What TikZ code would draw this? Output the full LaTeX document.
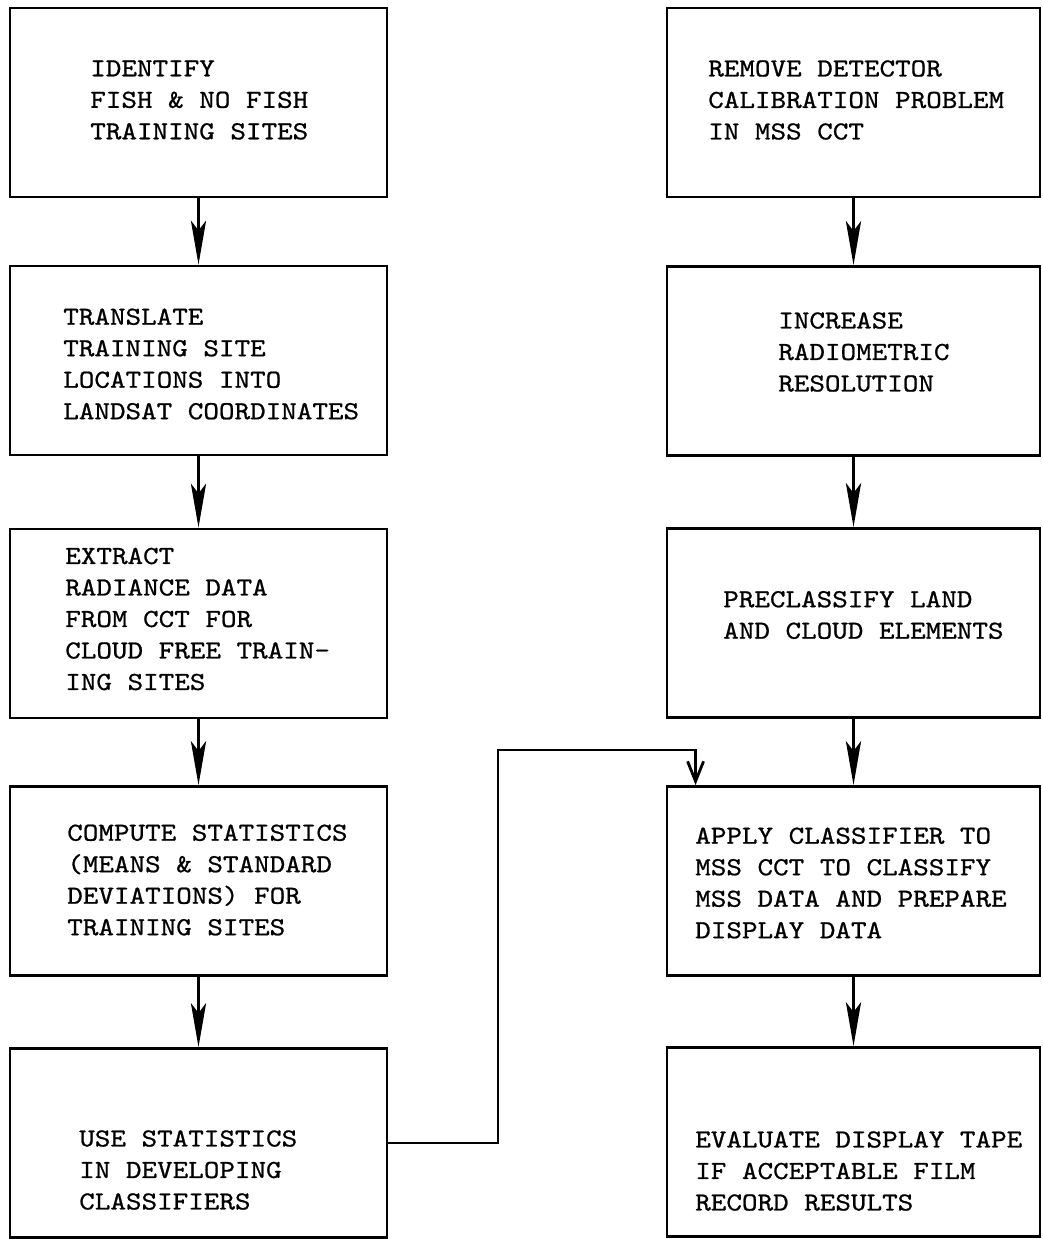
\documentclass[tikz,border=0pt]{standalone}
\usepackage{fontspec}
\newfontfamily\cour[FakeStretch=1.14,FakeBold=0.8]{lmmono10-regular.otf}
\usetikzlibrary{arrows.meta}
\begin{document}
\begin{tikzpicture}[x=0.025cm,y=-0.025cm,
  box/.style={draw, line width=2pt, inner sep=0pt, minimum height=4.725cm},
  lbox/.style={box, minimum width=9.425cm},
  rbox/.style={box, minimum width=9.325cm},
  txt/.style={anchor=west, align=left, inner sep=0pt, font=\cour\fontsize{18.5pt}{22.4pt}\selectfont},
  flow/.style={line width=2pt, -{Stealth[length=1.1cm,width=0.38cm,inset=0.25cm]}},
  conn/.style={line width=2pt, -{Straight Barb[length=0.5cm,width=0.4cm]}}
]
\useasboundingbox (0,0) rectangle (1043,1239);
% left column
\node[lbox] (L1) at (198.5,102.5) {};
\node[lbox] (L2) at (198.5,360.5) {};
\node[lbox] (L3) at (198.5,623.5) {};
\node[lbox] (L4) at (198.5,881) {};
\node[lbox] (L5) at (198.5,1143) {};
% right column
\node[rbox] (R1) at (853.5,102.5) {};
\node[rbox] (R2) at (853.5,361) {};
\node[rbox] (R3) at (853.5,623) {};
\node[rbox] (R4) at (853.5,881) {};
\node[rbox] (R5) at (853.5,1142) {};
% texts
\node[txt] (tL1) at (90,100) {IDENTIFY\\FISH \& NO FISH\\TRAINING SITES};
\node[txt] (tL2) at (63,364) {TRANSLATE\\TRAINING SITE\\LOCATIONS INTO\\LANDSAT COORDINATES};
\node[txt] (tL3) at (65,619) {EXTRACT\\RADIANCE DATA\\FROM CCT FOR\\CLOUD FREE TRAIN-\\ING SITES};
\node[txt] (tL4) at (67,880) {COMPUTE STATISTICS\\(MEANS \& STANDARD\\DEVIATIONS) FOR\\TRAINING SITES};
\node[txt] (tL5) at (79,1170) {USE STATISTICS\\IN DEVELOPING\\CLASSIFIERS};
\node[txt] (tR1) at (708,100) {REMOVE DETECTOR\\CALIBRATION PROBLEM\\IN MSS CCT};
\node[txt] (tR2) at (778,352) {INCREASE\\RADIOMETRIC\\RESOLUTION};
\node[txt] (tR3) at (723,615) {PRECLASSIFY LAND\\AND CLOUD ELEMENTS};
\node[txt] (tR4) at (695,883) {APPLY CLASSIFIER TO\\MSS CCT TO CLASSIFY\\MSS DATA AND PREPARE\\DISPLAY DATA};
\node[txt] (tR5) at (695,1171) {EVALUATE DISPLAY TAPE\\IF ACCEPTABLE FILM\\RECORD RESULTS};
% arrows
\draw[flow] (L1) -- (L2);
\draw[flow] (L2) -- (L3);
\draw[flow] (L3) -- (L4);
\draw[flow] (L4) -- (L5);
\draw[flow] (R1) -- (R2);
\draw[flow] (R2) -- (R3);
\draw[flow] (R3) -- (R4);
\draw[flow] (R4) -- (R5);
\coordinate (j1) at (498,750);
\draw[conn] (L5.east) -| (j1) -| ([xshift=0.75cm]R4.north west);
\end{tikzpicture}
\end{document}
